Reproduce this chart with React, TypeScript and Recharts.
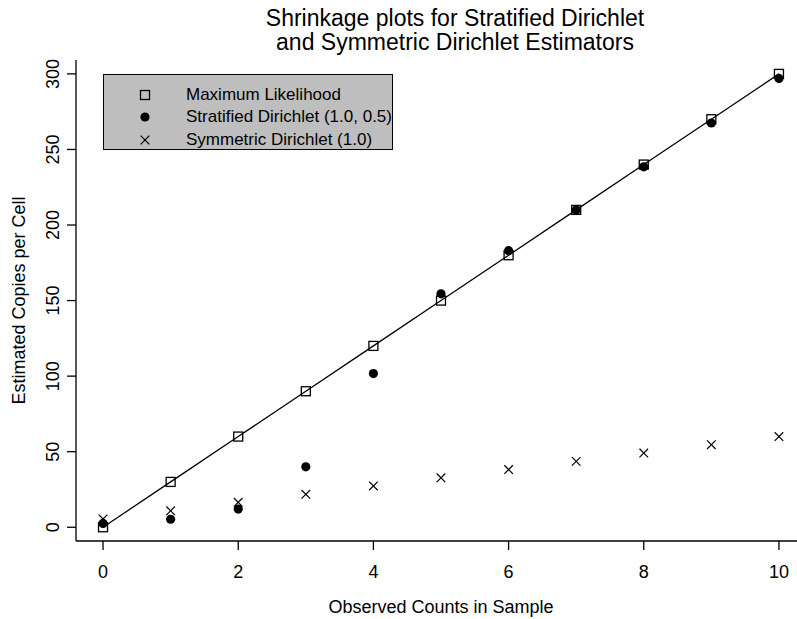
import React from "react";
import { ComposedChart, Line, XAxis, YAxis } from "recharts";

const xValues = [0, 1, 2, 3, 4, 5, 6, 7, 8, 9, 10];
const mlValues = [0, 30, 60, 90, 120, 150, 180, 210, 240, 270, 300];
const stratifiedValues = [2.5, 5.3, 12, 40, 101.7, 154.5, 183, 210, 238.5, 267.5, 297];
const symmetricValues = [5.5, 10.9, 16.5, 21.8, 27.3, 32.7, 38.2, 43.6, 49.1, 54.6, 60];
const xTicks = [0, 2, 4, 6, 8, 10];
const yTicks = [0, 50, 100, 150, 200, 250, 300];
const titleLines = ["Shrinkage plots for Stratified Dirichlet", "and Symmetric Dirichlet Estimators"];
const xTitle = "Observed Counts in Sample";
const yTitle = "Estimated Copies per Cell";
const legendLabels = ["Maximum Likelihood", "Stratified Dirichlet (1.0, 0.5)", "Symmetric Dirichlet (1.0)"];

const rows = xValues.map((x, i) => ({
  x,
  ml: mlValues[i],
  strat: stratifiedValues[i],
  sym: symmetricValues[i],
}));

const FONT = '"Liberation Sans", Arial, Helvetica, sans-serif';

const SquareDot = (p: any) => {
  if (p.cx == null || p.cy == null) return null;
  const s = 9;
  return <rect key={`sq-${p.index}`} x={p.cx - s / 2} y={p.cy - s / 2} width={s} height={s} fill="none" stroke="#000" strokeWidth={1.3} />;
};
const CircleDot = (p: any) => {
  if (p.cx == null || p.cy == null) return null;
  return <circle key={`ci-${p.index}`} cx={p.cx} cy={p.cy} r={4.6} fill="#000" stroke="none" />;
};
const CrossDot = (p: any) => {
  if (p.cx == null || p.cy == null) return null;
  const a = 4.3;
  return (
    <g key={`cr-${p.index}`} stroke="#000" strokeWidth={1.2}>
      <line x1={p.cx - a} y1={p.cy - a} x2={p.cx + a} y2={p.cy + a} />
      <line x1={p.cx - a} y1={p.cy + a} x2={p.cx + a} y2={p.cy - a} />
    </g>
  );
};

const YTick = (p: any) => {
  const { x, y, payload } = p;
  return (
    <text x={x} y={y} transform={`rotate(-90, ${x}, ${y})`} textAnchor="middle" fontSize={18} fontFamily={FONT} fill="#000">
      {payload.value}
    </text>
  );
};

const XTick = (p: any) => {
  const { x, y, payload } = p;
  return (
    <text x={x} y={y} dy="0.71em" textAnchor="middle" fontSize={18} fontFamily={FONT} fill="#000">
      {payload.value}
    </text>
  );
};

const legendSymbols = [
  <svg width={14} height={14} key="s0"><rect x={2.5} y={2.5} width={9} height={9} fill="none" stroke="#000" strokeWidth={1.3} /></svg>,
  <svg width={14} height={14} key="s1"><circle cx={7} cy={7} r={4.6} fill="#000" /></svg>,
  <svg width={14} height={14} key="s2"><g stroke="#000" strokeWidth={1.2}><line x1={2.7} y1={2.7} x2={11.3} y2={11.3} /><line x1={2.7} y1={11.3} x2={11.3} y2={2.7} /></g></svg>,
];

export default function App() {
  return (
    <div style={{ position: "absolute", left: 0, top: 0, width: 797, height: 619, background: "#fff", fontFamily: FONT }}>
      <ComposedChart width={797} height={619} data={rows} margin={{ top: 60, right: 0, bottom: 0, left: 0 }}>
        <XAxis
          xAxisId="bottom"
          dataKey="x"
          type="number"
          domain={[-0.4, 10.267]}
          allowDataOverflow
          ticks={xTicks}
          height={78}
          tickSize={9}
          tickMargin={15}
          tick={XTick}
          axisLine={{ stroke: "#000", strokeWidth: 1.3 }}
          tickLine={{ stroke: "#000", strokeWidth: 1.3 }}
          label={() => (
            <text x={441} y={613} textAnchor="middle" fontSize={18} fontFamily={FONT} fill="#000">
              {xTitle}
            </text>
          )}
        />
        <XAxis
          xAxisId="top"
          orientation="top"
          dataKey="x"
          type="number"
          domain={[-0.4, 10.267]}
          allowDataOverflow
          height={0}
          tick={false}
          tickLine={false}
          axisLine={{ stroke: "#000", strokeWidth: 1.3 }}
        />
        <YAxis
          type="number"
          domain={[-9.1, 309.2]}
          allowDataOverflow
          ticks={yTicks}
          width={76}
          tickSize={9}
          tickMargin={8}
          tick={YTick}
          axisLine={{ stroke: "#000", strokeWidth: 1.3 }}
          tickLine={{ stroke: "#000", strokeWidth: 1.3 }}
          label={(lp: any) => {
            const vb = lp.viewBox || {};
            const cy = (vb.y ?? 60) + (vb.height ?? 481) / 2;
            return (
              <text x={25} y={cy} transform={`rotate(-90, 25, ${cy})`} textAnchor="middle" fontSize={18} fontFamily={FONT} fill="#000">
                {yTitle}
              </text>
            );
          }}
        />
        <Line xAxisId="bottom" dataKey="ml" type="linear" stroke="#000" strokeWidth={1.3} dot={SquareDot} activeDot={false} isAnimationActive={false} />
        <Line xAxisId="bottom" dataKey="strat" type="linear" stroke="none" dot={CircleDot} activeDot={false} isAnimationActive={false} />
        <Line xAxisId="bottom" dataKey="sym" type="linear" stroke="none" dot={CrossDot} activeDot={false} isAnimationActive={false} />
      </ComposedChart>

      {titleLines.map((t, i) => (
        <div
          key={t}
          style={{
            position: "absolute",
            left: 0,
            width: 910,
            top: i === 0 ? 6 : 30,
            textAlign: "center",
            fontSize: 23,
            lineHeight: "24px",
            color: "#000",
            whiteSpace: "nowrap",
          }}
        >
          {t}
        </div>
      ))}

      <div
        style={{
          position: "absolute",
          left: 103,
          top: 74,
          width: 290,
          height: 76,
          boxSizing: "border-box",
          background: "#BEBEBE",
          border: "1.5px solid #000",
        }}
      >
        {legendLabels.map((lab, i) => (
          <div key={lab} style={{ position: "absolute", left: 0, top: 20 + i * 22.4 - 11, height: 22, width: 288 }}>
            <div style={{ position: "absolute", left: 34, top: 4 }}>{legendSymbols[i]}</div>
            <div style={{ position: "absolute", left: 82, top: 0, fontSize: 17, lineHeight: "22px", whiteSpace: "nowrap", color: "#000" }}>{lab}</div>
          </div>
        ))}
      </div>
    </div>
  );
}
